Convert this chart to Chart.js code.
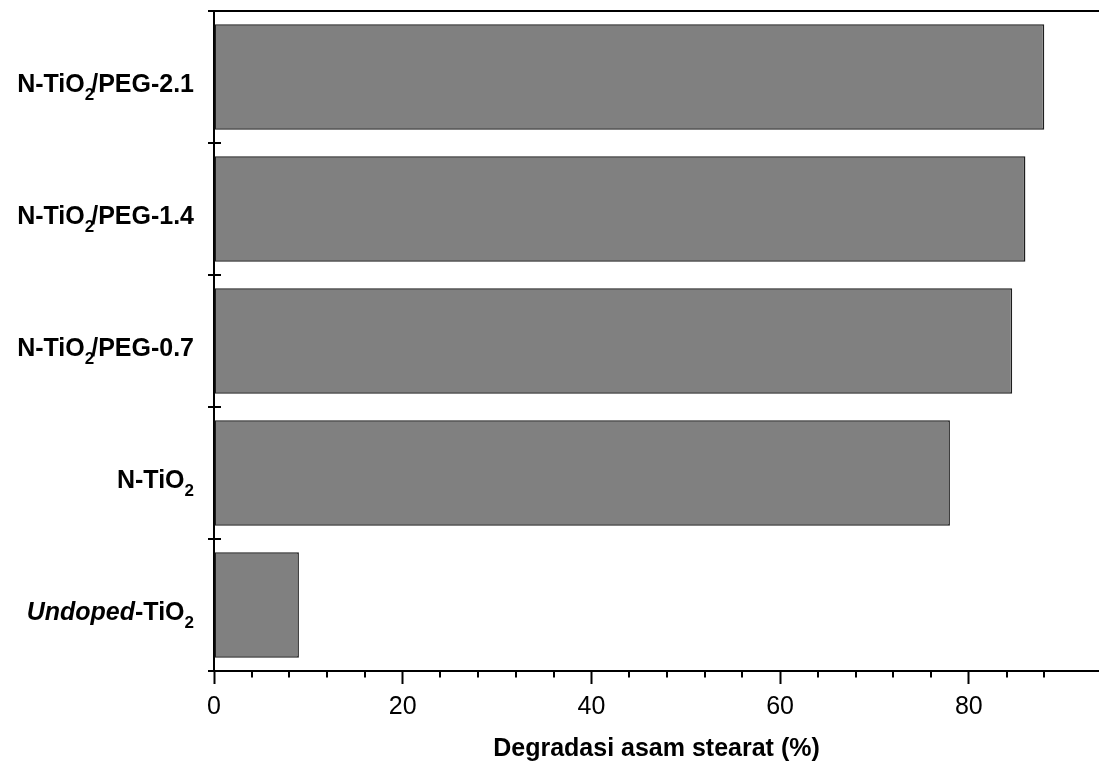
<!DOCTYPE html>
<html>
<head>
<meta charset="utf-8">
<script src="https://cdn.jsdelivr.net/npm/chart.js@4.4.1/dist/chart.umd.min.js"></script>
<style>
  html, body { margin: 0; padding: 0; background: #ffffff; }
  canvas { display: block; }
</style>
</head>
<body>
<canvas id="chart" width="1099" height="767"></canvas>
<script>
// Samples, top to bottom
const categories = ['N-TiO2/PEG-2.1', 'N-TiO2/PEG-1.4', 'N-TiO2/PEG-0.7', 'N-TiO2', 'Undoped-TiO2'];
// Stearic acid degradation (%)
const degradation = [88, 86, 84.6, 78, 9];
// x axis: labelled every 20, minor marks every 4
const xMajorStep = 20;
const xMinorStep = 4;
const xMin = 0;
const xMax = 93.8;
const xTitle = 'Degradasi asam stearat (%)';

const FONT = '"Liberation Sans", Arial, Helvetica, sans-serif';

// Split a sample name into styled runs: italic prefix, "TiO" + subscript 2
function richLabel(name) {
  const runs = [];
  let rest = name;
  if (rest.startsWith('Undoped')) {
    runs.push({ text: 'Undoped', style: 'italic' });
    rest = rest.slice('Undoped'.length);
  }
  const parts = rest.split('O2');
  parts.forEach((p, i) => {
    if (i > 0) runs.push({ text: '2', style: 'sub' });
    const t = (i < parts.length - 1) ? p + 'O' : p;
    if (t) runs.push({ text: t, style: 'bold' });
  });
  return runs;
}

function runFont(style) {
  if (style === 'italic') return 'italic bold 25px ' + FONT;
  if (style === 'sub') return 'bold 17px ' + FONT;
  return 'bold 25px ' + FONT;
}

const framePlugin = {
  id: 'frame',
  afterDraw(chart) {
    const ctx = chart.ctx;
    const area = chart.chartArea;
    const xs = chart.scales.x;
    const ys = chart.scales.y;
    ctx.save();
    ctx.strokeStyle = '#000000';
    ctx.fillStyle = '#000000';

    // top frame line
    ctx.lineWidth = 2;
    ctx.beginPath();
    ctx.moveTo(area.left - 1, area.top);
    ctx.lineTo(area.right, area.top);
    ctx.stroke();

    // minor marks on the x axis
    ctx.lineWidth = 2;
    xs.ticks.forEach(t => {
      if (t.value % xMinorStep === 0 && t.value % xMajorStep !== 0) {
        const px = Math.round(xs.getPixelForValue(t.value));
        ctx.beginPath();
        ctx.moveTo(px, area.bottom);
        ctx.lineTo(px, area.bottom + 6.5);
        ctx.stroke();
      }
    });

    // category boundary marks crossing the y axis
    const n = categories.length;
    const half = (ys.getPixelForValue(1) - ys.getPixelForValue(0)) / 2;
    for (let i = 0; i <= n; i++) {
      const py = i < n ? ys.getPixelForValue(i) - half : ys.getPixelForValue(n - 1) + half;
      ctx.beginPath();
      ctx.moveTo(area.left - 6, Math.round(py));
      ctx.lineTo(area.left + 7, Math.round(py));
      ctx.stroke();
    }

    // sample names with subscripts
    ctx.textBaseline = 'alphabetic';
    ctx.textAlign = 'left';
    const rightX = 194;
    categories.forEach((name, i) => {
      const runs = richLabel(name);
      let total = 0;
      runs.forEach((r, k) => {
        ctx.font = runFont(r.style);
        const tuck = (r.style === 'sub' && k < runs.length - 1) ? -3 : 0;
        r.w = ctx.measureText(r.text).width + tuck;
        total += r.w;
      });
      let x = rightX - total;
      const base = ys.getPixelForValue(i) + 15;
      runs.forEach(r => {
        ctx.font = runFont(r.style);
        ctx.fillText(r.text, x, r.style === 'sub' ? base + 8 : base);
        x += r.w;
      });
    });
    ctx.restore();
  }
};

new Chart(document.getElementById('chart'), {
  type: 'bar',
  data: {
    labels: categories,
    datasets: [{
      data: degradation,
      backgroundColor: '#808080',
      borderColor: '#1e1e1e',
      borderWidth: 1.5,
      borderSkipped: false,
      barPercentage: 0.8,
      categoryPercentage: 1.0
    }]
  },
  options: {
    indexAxis: 'y',
    responsive: false,
    animation: false,
    devicePixelRatio: 1,
    layout: { padding: { top: 11, right: 0, left: 0, bottom: 0 } },
    plugins: {
      legend: { display: false },
      tooltip: { enabled: false }
    },
    scales: {
      x: {
        type: 'linear',
        min: xMin,
        max: xMax,
        afterBuildTicks(scale) {
          scale.ticks = scale.ticks.filter(t => t.value % xMinorStep === 0);
        },
        afterFit(scale) { scale.height = 96; },
        ticks: {
          stepSize: xMinorStep,
          autoSkip: false,
          maxRotation: 0,
          padding: 8,
          color: '#000000',
          font: { family: FONT, size: 25 },
          callback: v => (v % xMajorStep === 0 ? String(v) : '')
        },
        grid: {
          display: true,
          drawOnChartArea: false,
          drawTicks: true,
          tickLength: 13,
          tickWidth: 2,
          tickColor: ctx => (ctx.tick && ctx.tick.value % xMajorStep === 0 ? '#000000' : 'rgba(0,0,0,0)')
        },
        border: { display: true, color: '#000000', width: 2 },
        title: {
          display: true,
          text: xTitle,
          color: '#000000',
          font: { family: FONT, size: 25, weight: 'bold' },
          padding: { top: 4, bottom: 3 }
        }
      },
      y: {
        type: 'category',
        offset: true,
        afterFit(scale) { scale.width = 214; },
        ticks: { display: false },
        grid: { display: false, drawTicks: false },
        border: { display: true, color: '#000000', width: 2 }
      }
    }
  },
  plugins: [framePlugin]
});
</script>
</body>
</html>
